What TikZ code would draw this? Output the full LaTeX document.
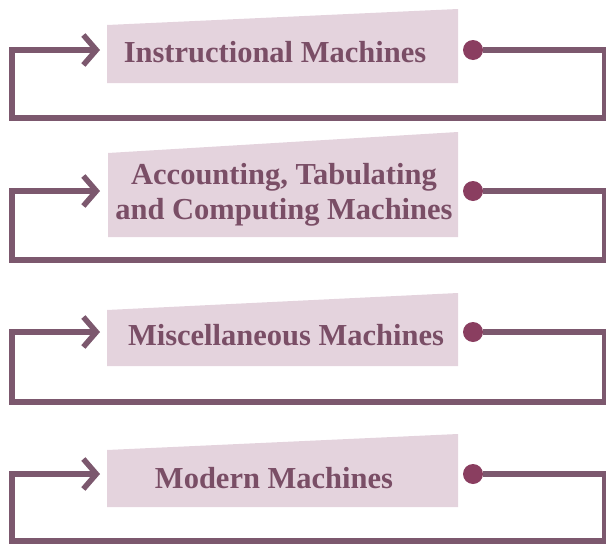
\documentclass[tikz,border=0pt]{standalone}
\usepackage{fontspec}
\setmainfont{Liberation Serif}
\usetikzlibrary{arrows.meta}

\definecolor{loopcol}{RGB}{124,88,110}
\definecolor{plugcol}{RGB}{138,62,96}
\definecolor{labelcol}{RGB}{122,78,102}
\definecolor{panelcol}{RGB}{228,211,221}

\tikzset{
  machine/.style={font=\bfseries\fontsize{30.5}{35}\selectfont, text=labelcol, inner sep=0pt, align=center},
  panel/.style={fill=panelcol},
  loopline/.style={draw=loopcol, line width=5.5pt, line join=miter},
  feedback/.style={loopline, -{Straight Barb[length=13pt, width=30pt]}},
  plug/.style={circle, fill=plugcol, minimum size=20pt, inner sep=0pt}
}

\begin{document}
\begin{tikzpicture}[x=1pt,y=-1pt]
    \useasboundingbox (0,0) rectangle (606,544);
    % slanted panels
    \fill[panel] (107,25) -- (458,9) -- (458,83) -- (107,83) -- cycle;
    \fill[panel] (108,153) -- (458,132) -- (458,237) -- (108,237) -- cycle;
    \fill[panel] (107,310) -- (458,293) -- (458,366) -- (107,366) -- cycle;
    \fill[panel] (107,450) -- (458,434) -- (458,507) -- (107,507) -- cycle;
    % labels
    \node[machine, anchor=base] (instr) at (275,62) {Instructional Machines};
    \node[machine] (acct) at (284,195) {Accounting, Tabulating\\and Computing Machines};
    \node[machine, anchor=base] (misc) at (286,345) {Miscellaneous Machines};
    \node[machine, anchor=base] (modern) at (274,488) {Modern Machines};
    % plugs on the right
    \node[plug] (p1) at (473,50) {};
    \node[plug] (p2) at (473,191) {};
    \node[plug] (p3) at (473,332) {};
    \node[plug] (p4) at (473,474) {};
    % arrow ends
    \coordinate (in1) at (100,50);
    \coordinate (in2) at (100,191);
    \coordinate (in3) at (100,332);
    \coordinate (in4) at (100,474);
    % feedback loops
    \draw[feedback] (p1) -- (605,50) -- (605,118) -- (12,118) -- (12,50) -- (in1);
    \draw[feedback] (p2) -- (605,191) -- (605,260) -- (12,260) -- (12,191) -- (in2);
    \draw[feedback] (p3) -- (605,332) -- (605,402) -- (12,402) -- (12,332) -- (in3);
    \draw[feedback] (p4) -- (605,474) -- (605,541) -- (12,541) -- (12,474) -- (in4);
\end{tikzpicture}
\end{document}
